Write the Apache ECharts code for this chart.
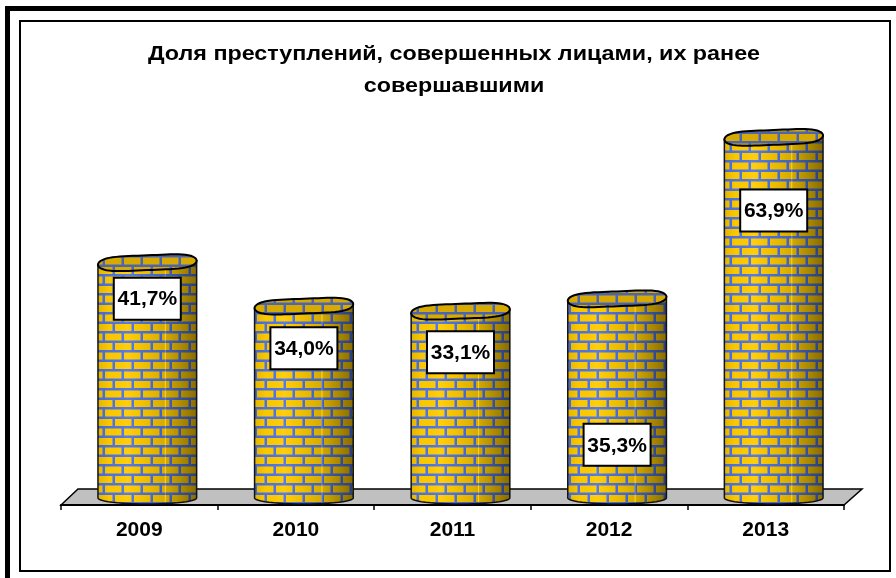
<!DOCTYPE html>
<html>
<head>
<meta charset="utf-8">
<title>chart</title>
<script src="https://cdn.jsdelivr.net/npm/echarts@6/dist/echarts.min.js"></script>
<style>
  html, body { margin: 0; padding: 0; background: #fff; }
  #main { width: 896px; height: 578px; }
</style>
</head>
<body>
<div id="main"></div>
<script>
var years = ['2009', '2010', '2011', '2012', '2013'];
var shares = [41.7, 34.0, 33.1, 35.3, 63.9];
var titleText = 'Доля преступлений, совершенных лицами, их ранее\nсовершавшими';
// label box centre, px below the top of its cylinder
var labelDrop = [36, 42, 41, 146, 73];

var FONT = '"Liberation Sans", Arial, sans-serif';

// brick tile for the cylinders
function brickTile() {
    var c = document.createElement('canvas');
    c.width = 38;
    c.height = 19;
    var g = c.getContext('2d');
    g.fillStyle = '#4f74e4';
    g.fillRect(0, 0, 38, 19);
    g.filter = 'blur(0.5px)';
    function brick(x, y) {
        g.fillStyle = '#ffcc00';
        g.fillRect(x, y, 16.5, 7);
    }
    brick(1, 1); brick(20, 1); brick(-18, 1); brick(39, 1);
    brick(10, 10.5); brick(29, 10.5); brick(-9, 10.5);
    return c;
}
var tile = brickTile();

function renderCylinder(params, api) {
    var i = params.dataIndex;
    var base = api.coord([api.value(0), 0]);
    var top = api.coord([api.value(0), api.value(1)]);
    var w = api.size([1, 0])[0] * 0.63;
    var cx = base[0], l = cx - w / 2, r = cx + w / 2;
    var depth = 6;

    var bottomEdge = [];
    for (var t = 0; t <= 24; t++) {
        var a = Math.PI * t / 24;
        bottomEdge.push([cx + Math.cos(a) * w / 2, base[1] + Math.sin(a) * depth]);
    }
    var body = [[r, top[1] - 2]].concat(bottomEdge).concat([[l, top[1] + 2]]);

    var lid = [];
    for (var k = 0; k < 64; k++) {
        var b = Math.PI * 2 * k / 64;
        lid.push([
            cx + Math.cos(b) * w / 2,
            top[1] + Math.sin(b) * 8.5 - Math.cos(b) * 2 + Math.sin(b * 3) * 1.1
        ]);
    }

    var shade = {
        type: 'linear', x: 0, y: 0, x2: 1, y2: 0,
        colorStops: [
            { offset: 0, color: 'rgba(0,0,0,0.12)' },
            { offset: 0.12, color: 'rgba(0,0,0,0.02)' },
            { offset: 0.3, color: 'rgba(255,255,255,0.06)' },
            { offset: 0.45, color: 'rgba(0,0,0,0.05)' },
            { offset: 0.67, color: 'rgba(0,0,0,0.16)' },
            { offset: 0.68, color: 'rgba(255,255,255,0.12)' },
            { offset: 0.69, color: 'rgba(0,0,0,0.18)' },
            { offset: 0.88, color: 'rgba(0,0,0,0.36)' },
            { offset: 1, color: 'rgba(0,0,0,0.48)' }
        ]
    };
    var boxY = top[1] + labelDrop[i];

    return {
        type: 'group',
        children: [
            { type: 'polygon', shape: { points: body }, style: { fill: { image: tile, repeat: 'repeat' } } },
            { type: 'polygon', shape: { points: body }, style: { fill: shade, stroke: '#111', lineWidth: 1.5 } },
            { type: 'polygon', shape: { points: lid }, style: { fill: { image: tile, repeat: 'repeat' } } },
            { type: 'polygon', shape: { points: lid }, style: { fill: 'rgba(70,50,0,0.22)', stroke: '#000', lineWidth: 2 } },
            {
                type: 'rect',
                shape: { x: cx - 33.5, y: boxY - 21, width: 67, height: 42 },
                style: { fill: '#fff', stroke: '#000', lineWidth: 2 }
            },
            {
                type: 'text',
                style: {
                    x: cx, y: boxY + 1,
                    text: api.value(1).toFixed(1).replace('.', ',') + '%',
                    fill: '#000',
                    font: 'bold 21px ' + FONT,
                    align: 'center',
                    verticalAlign: 'middle'
                }
            }
        ]
    };
}

var chart = echarts.init(document.getElementById('main'));
chart.setOption({
    animation: false,
    backgroundColor: '#fff',
    graphic: [
        { type: 'rect', z: 0, shape: { x: 5, y: 6, width: 5, height: 572 }, style: { fill: '#000' } },
        { type: 'rect', z: 0, shape: { x: 5, y: 6, width: 891, height: 5 }, style: { fill: '#000' } },
        { type: 'rect', z: 0, shape: { x: 20, y: 21, width: 870, height: 550 }, style: { fill: 'none', stroke: '#000', lineWidth: 2 } },
        {
            type: 'polygon', z: 0,
            shape: { points: [[61, 505], [78, 489], [862, 489], [844, 505]] },
            style: { fill: '#c0c0c0', stroke: '#000', lineWidth: 1.5 }
        },
        {
            // title is stretched: the original has wide tracking
            type: 'text', z: 1, x: 454, y: 38, scaleX: 1.11,
            style: {
                text: titleText,
                fill: '#000',
                font: 'bold 21px ' + FONT,
                lineHeight: 32,
                align: 'center'
            }
        }
    ],
    grid: [
        { left: 61, width: 783, top: 103, bottom: 73 },
        { left: 69, width: 783, top: 103, bottom: 80 }
    ],
    xAxis: [
        {
            type: 'category', gridIndex: 0, data: years,
            axisLine: { lineStyle: { color: '#000', width: 2 } },
            axisTick: { show: true, interval: 0, length: 5, lineStyle: { color: '#000', width: 1.5 } },
            axisLabel: { color: '#000', fontFamily: FONT, fontWeight: 'bold', fontSize: 21, margin: 15 }
        },
        { type: 'category', gridIndex: 1, data: years, show: false }
    ],
    yAxis: [
        { type: 'value', gridIndex: 0, show: false, min: 0, max: 70 },
        { type: 'value', gridIndex: 1, show: false, min: 0, max: 70 }
    ],
    series: [{
        type: 'custom',
        xAxisIndex: 1,
        yAxisIndex: 1,
        z: 5,
        clip: false,
        renderItem: renderCylinder,
        encode: { x: 0, y: 1 },
        data: years.map(function (y, i) { return [i, shares[i]]; })
    }]
});
</script>
</body>
</html>
